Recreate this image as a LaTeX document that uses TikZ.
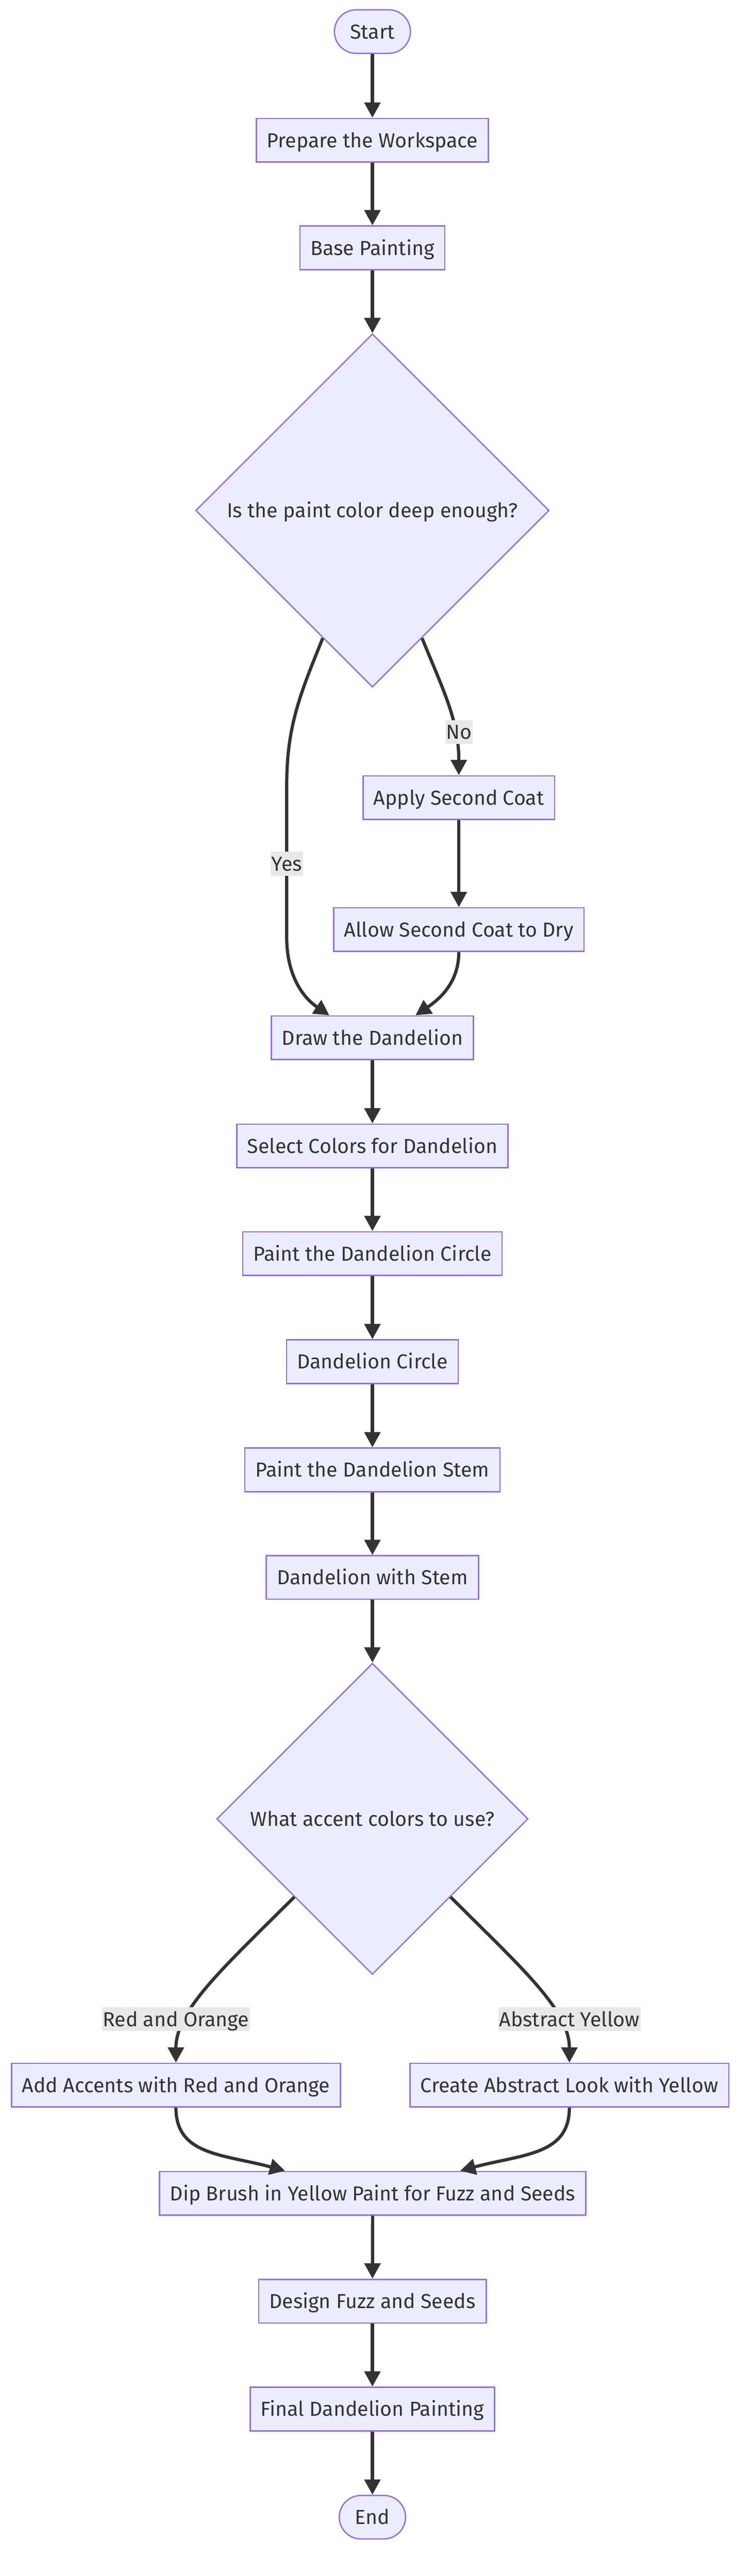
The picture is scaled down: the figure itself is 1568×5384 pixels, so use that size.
\documentclass[tikz,border=0pt]{standalone}
\usepackage{fontspec}
\setmainfont{Fira Sans}
\usepackage{xcolor}
\usepackage{tikz}
\usetikzlibrary{calc}
\usetikzlibrary{shapes.geometric,arrows.meta}
\definecolor{isi}{HTML}{ECECFF}
\definecolor{garis}{HTML}{9370DB}
\definecolor{gelap}{HTML}{333333}
\definecolor{abu}{HTML}{E8E8E8}

\begin{document}
\begin{tikzpicture}[x=0.01cm, y=-0.01cm,
        font=\fontsize{12.05}{14.5}\selectfont,
        box/.style={draw=garis, fill=isi, line width=0.8pt, text=gelap, minimum height=0.91cm, inner xsep=0.22cm, inner ysep=0pt, text height=0.3cm, text depth=0pt},
        ujung/.style={box, rounded corners=0.455cm, inner xsep=0.33cm},
        tanya/.style={box, diamond, inner sep=0pt},
        panah/.style={draw=gelap, line width=1.9pt, -{Triangle[length=0.32cm, width=0.33cm]}},
        ket/.style={fill=abu, text=gelap, inner xsep=0.02cm, inner ysep=0pt, minimum height=0.5cm, text height=0.3cm, text depth=0pt}]
        \useasboundingbox (0,0) rectangle (1568,5384);
        %NODES
        \node[ujung] (start) at (778,66) {Start};
        \node[box] (prep) at (778,293) {Prepare the Workspace};
        \node[box] (base) at (778,518) {Base Painting};
        \node[tanya, minimum width=7.38cm, minimum height=7.38cm] (q1) at (778,1067) {Is the paint color deep enough?};
        \node[box] (apply) at (958.5,1667) {Apply Second Coat};
        \node[box] (dry) at (958.5,1943) {Allow Second Coat to Dry};
        \node[box] (sketch) at (778,2169) {Draw the Dandelion};
        \node[box] (select) at (778,2395) {Select Colors for Dandelion};
        \node[box] (paintc) at (778,2620) {Paint the Dandelion Circle};
        \node[box] (dcircle) at (778,2846) {Dandelion Circle};
        \node[box] (paints) at (778,3072) {Paint the Dandelion Stem};
        \node[box] (stem) at (778,3297) {Dandelion with Stem};
        \node[tanya, minimum width=6.5cm, minimum height=6.5cm] (q2) at (778,3801.5) {What accent colors to use?};
        \node[box] (accents) at (367.5,4358) {Add Accents with Red and Orange};
        \node[box] (abstract) at (1189.5,4358) {Create Abstract Look with Yellow};
        \node[box] (dip) at (778.5,4584) {Dip Brush in Yellow Paint for Fuzz and Seeds};
        \node[box] (fuzz) at (778,4809.5) {Design Fuzz and Seeds};
        \node[box] (final) at (778,5035) {Final Dandelion Painting};
        \node[ujung] (finish) at (778,5261) {End};
        %KOORDINAT
        \coordinate (yesA) at ($(q1.west)!0.72!(q1.south)$);
        \coordinate (noA) at ($(q1.east)!0.72!(q1.south)$);
        \coordinate (yesB) at ($(sketch.north)+(-90,0)$);
        \coordinate (dryB) at ($(sketch.north)+(90,0)$);
        \coordinate (accB) at ($(dip.north)+(-183,0)$);
        \coordinate (absB) at ($(dip.north)+(183,0)$);
        %PANAH
        \draw[panah] (start) -- (prep);
        \draw[panah] (prep) -- (base);
        \draw[panah] (base) -- (q1.north);
        \draw[panah] (yesA) to[out=-112, in=90] (599,1640) -- (599,1960) to[out=-90, in=146] (yesB);
        \draw[panah] (noA) to[out=-68, in=90] (apply.north);
        \draw[panah] (apply) -- (dry);
        \draw[panah] (dry.south) to[out=-90, in=34] (dryB);
        \draw[panah] (sketch) -- (select);
        \draw[panah] (select) -- (paintc);
        \draw[panah] (paintc) -- (dcircle);
        \draw[panah] (dcircle) -- (paints);
        \draw[panah] (paints) -- (stem);
        \draw[panah] (stem) -- (q2.north);
        \draw[panah] (q2.south west) .. controls +(-150,150) and +(0,-110) .. (accents.north);
        \draw[panah] (q2.south east) .. controls +(150,150) and +(0,-110) .. (abstract.north);
        \draw[panah] (accents.south) .. controls +(0,100) and +(-130,-35) .. (accB);
        \draw[panah] (abstract.south) .. controls +(0,100) and +(130,-35) .. (absB);
        \draw[panah] (dip) -- (fuzz);
        \draw[panah] (fuzz) -- (final);
        \draw[panah] (final) -- (finish);
        %LABEL
        \node[ket] (lblyes) at (599,1805) {Yes};
        \node[ket] (lblno) at (959,1530) {No};
        \node[ket] (lblro) at (367.5,4220) {Red and Orange};
        \node[ket] (lblay) at (1189.5,4220) {Abstract Yellow};
\end{tikzpicture}
\end{document}
